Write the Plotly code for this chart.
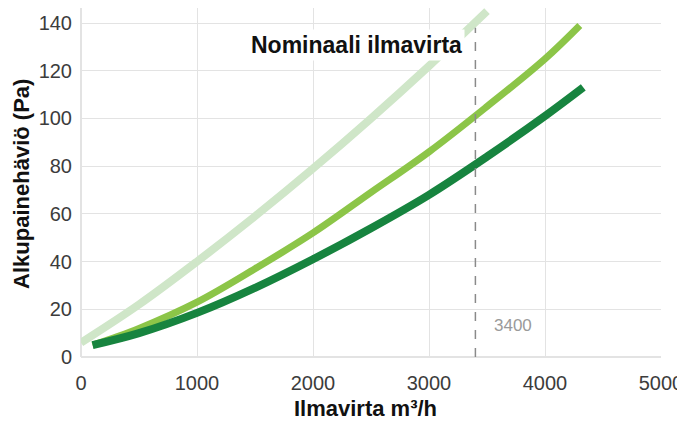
import plotly.graph_objects as go

# luettu kuvasta (ilmavirta m3/h, painehäviö Pa)
x_vaalea = [0, 500, 1000, 1500, 2000, 2500, 3000, 3500]
y_vaalea = [6, 22, 40, 59, 79, 100, 122, 145]

x_keski = [100, 500, 1000, 1500, 2000, 2500, 3000, 3500, 4000, 4300]
y_keski = [5, 12, 23, 37, 52, 69, 86, 105, 125, 139]

x_tumma = [100, 500, 1000, 1500, 2000, 2500, 3000, 3500, 4000, 4330]
y_tumma = [5, 10, 18.5, 29, 41, 54, 68, 84, 101, 113]

nominaali = 3400
x_ticks = [0, 1000, 2000, 3000, 4000, 5000]
y_ticks = [0, 20, 40, 60, 80, 100, 120, 140]

fig = go.Figure()

fig.add_trace(go.Scatter(x=x_vaalea, y=y_vaalea, mode='lines', line_shape='spline',
                         line=dict(color='#cfe6c8', width=8), hoverinfo='skip'))
fig.add_trace(go.Scatter(x=x_keski, y=y_keski, mode='lines', line_shape='spline',
                         line=dict(color='#8cc548', width=7), hoverinfo='skip'))
fig.add_trace(go.Scatter(x=x_tumma, y=y_tumma, mode='lines', line_shape='spline',
                         line=dict(color='#17843f', width=8), hoverinfo='skip'))

# nimellisilmavirta
fig.add_shape(type='line', x0=nominaali, x1=nominaali, y0=0, y1=138,
              line=dict(color='#8a8a8a', width=1.5, dash='dash'))
fig.add_annotation(x=3724, y=13.4, text=str(nominaali), showarrow=False,
                   font=dict(family='Liberation Sans', size=17, color='#9a9a9a'))
fig.add_annotation(x=2371, y=131, text='<b>Nominaali ilmavirta</b>', showarrow=False,
                   bgcolor='white', borderpad=2,
                   font=dict(family='Liberation Sans', size=23, color='#111'))

# akselien otsikot
fig.add_annotation(xref='paper', yref='paper', x=0.491, y=0, yshift=-51,
                   xanchor='center', yanchor='middle',
                   text='<b>Ilmavirta m³/h</b>', showarrow=False,
                   font=dict(family='Liberation Sans', size=22, color='#111'))
fig.add_annotation(xref='paper', yref='paper', x=0, xshift=-59, y=0.496,
                   xanchor='center', yanchor='middle',
                   textangle=-90, text='<b>Alkupainehäviö (Pa)</b>', showarrow=False,
                   font=dict(family='Liberation Sans', size=22, color='#111'))

fig.update_layout(
    width=677,
    height=413,
    margin=dict(l=73, r=24, t=0, b=64),
    plot_bgcolor='white',
    paper_bgcolor='white',
    showlegend=False,
    font=dict(family='Liberation Sans', size=20, color='#3c3c3c'),
    xaxis=dict(
        range=[0, 5000],
        tickvals=x_ticks,
        automargin=False,
        showgrid=True, gridcolor='#e3e3e3', gridwidth=1,
        zeroline=True, zerolinecolor='#e3e3e3',
        ticks='', ticklabelstandoff=12,
        tickfont=dict(size=20, color='#3c3c3c'),
    ),
    yaxis=dict(
        range=[0, 146.3],
        tickvals=y_ticks,
        automargin=False,
        showgrid=True, gridcolor='#e3e3e3', gridwidth=1,
        zeroline=True, zerolinecolor='#e3e3e3',
        ticks='', ticklabelstandoff=8,
        tickfont=dict(size=20, color='#3c3c3c'),
    ),
)

fig.write_html("out.html")
